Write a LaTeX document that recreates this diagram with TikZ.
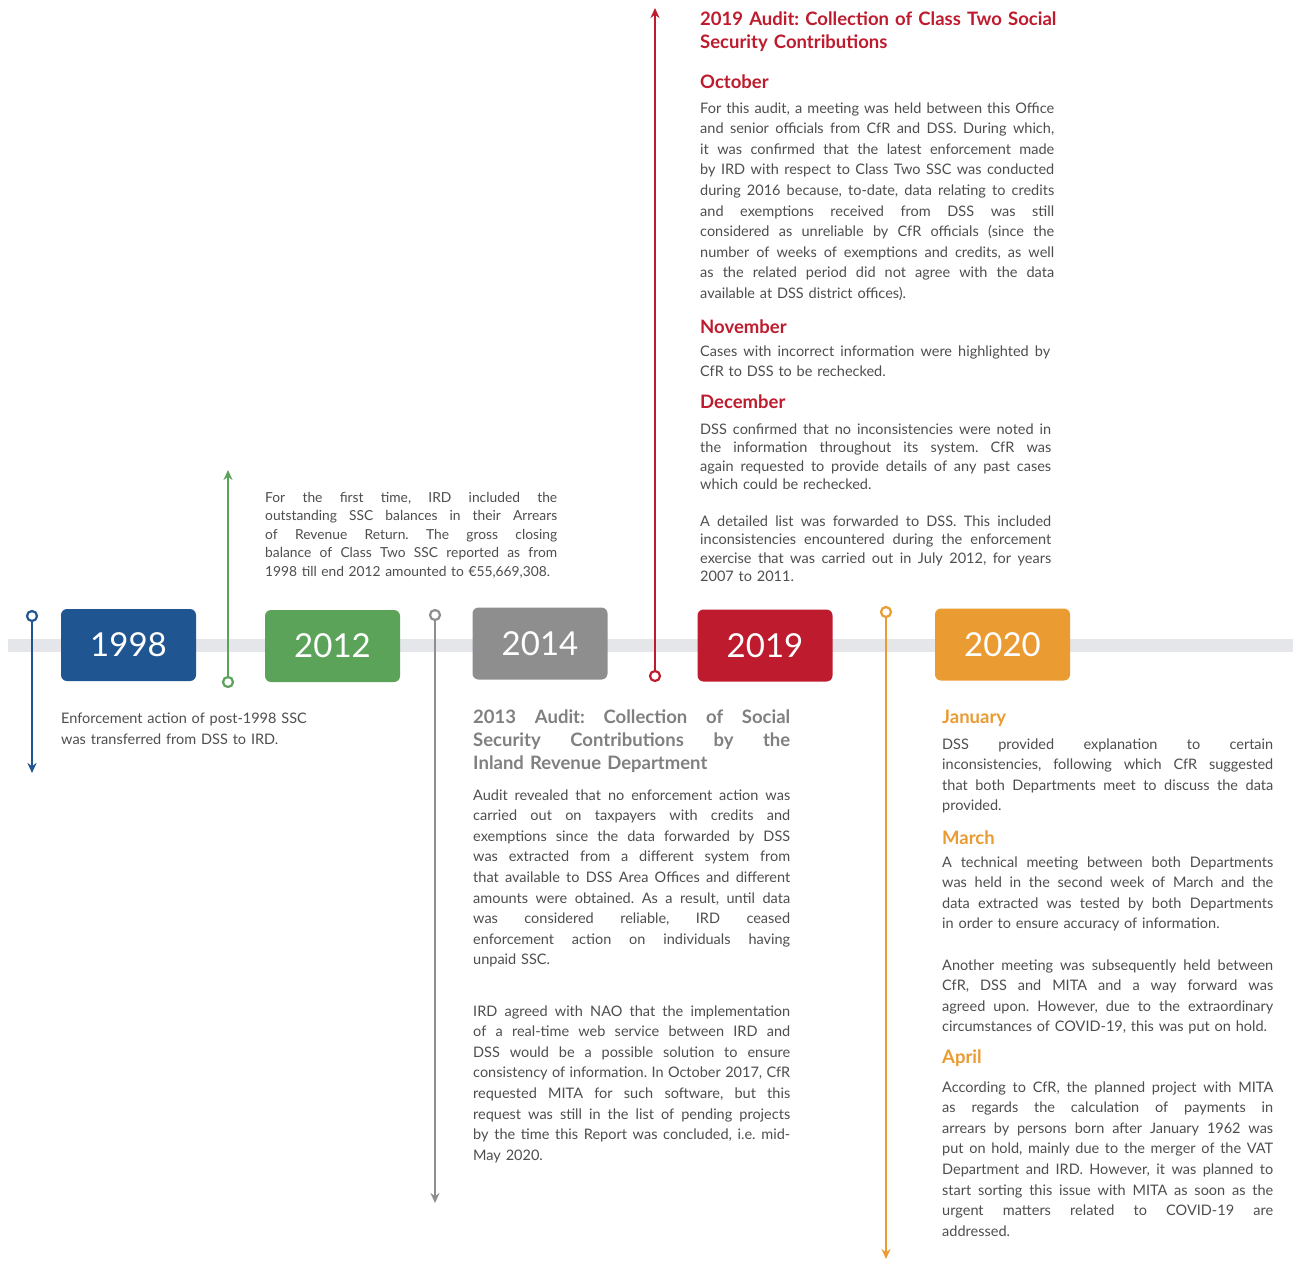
\documentclass[tikz,border=0pt]{standalone}
\usepackage{fontspec}
\setmainfont{Lato}
\usetikzlibrary{arrows.meta}
\definecolor{cblue}{RGB}{31,86,146}
\definecolor{cgreen}{RGB}{92,163,90}
\definecolor{cgray}{RGB}{142,142,142}
\definecolor{cred}{RGB}{190,28,46}
\definecolor{corange}{RGB}{234,155,50}
\definecolor{hgray}{RGB}{128,128,128}
\definecolor{bodygray}{RGB}{78,78,78}
\definecolor{band}{RGB}{228,230,233}
\def\jw{100pt}
\newcommand\jline[1]{{\frenchspacing\spaceskip=0.24em plus 3em\xspaceskip=0pt\makebox[\jw][s]{#1}}}
\tikzset{
  yearbox/.style={fill=#1, rounded corners=6pt, minimum width=135pt, minimum height=72pt,
    text=white, font=\fontsize{33}{33}\selectfont, inner sep=0},
  ring/.style={circle, draw=#1, fill=white, line width=2.2pt, minimum size=10pt, inner sep=0},
  tipconn/.style={draw=#1, line width=2.4pt, -{Stealth[length=10pt,width=9pt]}},
  para/.style={anchor=base west, inner sep=0, text width=#1, text=bodygray,
    font=\fontsize{14.5}{20.6}\selectfont, execute at begin node={\def\jw{#1}\parindent=0pt\frenchspacing}},
  paratight/.style={para=#1, font=\fontsize{14.5}{18.6}\selectfont},
  parasmall/.style={para=#1, font=\fontsize{13.8}{18.5}\selectfont},
  head/.style={anchor=base west, inner sep=0, text=#1, font=\fontsize{18.5}{23}\selectfont\bfseries},
  headblock/.style 2 args={anchor=base west, inner sep=0, text=#1, text width=#2,
    font=\fontsize{18.5}{23}\selectfont\bfseries, execute at begin node={\def\jw{#2}\parindent=0pt\frenchspacing}},
}
\begin{document}
\frenchspacing
\begin{tikzpicture}[x=1pt,y=-1pt]
\useasboundingbox[fill=white] (0,0) rectangle (1293,1264);
% timeline band
\draw[band, line width=13pt] (8,645) -- (1293,645);

% year boxes
\node[yearbox=cblue]   (y1998) at (128.5,645) {1998};
\node[yearbox=cgreen]  (y2012) at (332.5,646) {2012};
\node[yearbox=cgray]   (y2014) at (540,643.5) {2014};
\node[yearbox=cred]    (y2019) at (765,645.5) {2019};
\node[yearbox=corange] (y2020) at (1002.5,644.5) {2020};

% connectors
\node[ring=cblue] (r1998) at (32,616) {};
\coordinate (a1998) at (32,773);
\draw[tipconn=cblue] (r1998) -- (a1998);

\node[ring=cgreen] (r2012) at (228,682) {};
\coordinate (a2012) at (228,470);
\draw[tipconn=cgreen] (r2012) -- (a2012);

\node[ring=cgray] (r2014) at (435,615) {};
\coordinate (a2014) at (435,1203);
\draw[tipconn=cgray] (r2014) -- (a2014);

\node[ring=cred] (r2019) at (655,676) {};
\coordinate (a2019) at (655,8);
\draw[tipconn=cred] (r2019) -- (a2019);

\node[ring=corange] (r2020) at (886,612) {};
\coordinate (a2020) at (886,1259);
\draw[tipconn=corange] (r2020) -- (a2020);

% 1998 text
\node[para=260pt, font=\fontsize{14.5}{21}\selectfont] (t1998) at (61,723)
  {Enforcement action of post-1998 SSC\\was transferred from DSS to IRD.};

% 2012 text
\node[parasmall=292pt] (t2012) at (265,502)
  {\jline{For the first time, IRD included the}\\
   \jline{outstanding SSC balances in their Arrears}\\
   \jline{of Revenue Return. The gross closing}\\
   \jline{balance of Class Two SSC reported as from}\\
   1998 till end 2012 amounted to €55,669,308.};

% 2014 text
\node[headblock={hgray}{317pt}] (h2014) at (473,723)
  {\jline{2013 Audit: Collection of Social}\\
   \jline{Security Contributions by the}\\
   Inland Revenue Department};
\node[para=317pt] (t2014a) at (473,800)
  {\jline{Audit revealed that no enforcement action was}\\
   \jline{carried out on taxpayers with credits and}\\
   \jline{exemptions since the data forwarded by DSS}\\
   \jline{was extracted from a different system from}\\
   \jline{that available to DSS Area Offices and different}\\
   \jline{amounts were obtained. As a result, until data}\\
   \jline{was considered reliable, IRD ceased}\\
   \jline{enforcement action on individuals having}\\
   unpaid SSC.};
\node[para=317pt] (t2014b) at (473,1016)
  {\jline{IRD agreed with NAO that the implementation}\\
   \jline{of a real-time web service between IRD and}\\
   \jline{DSS would be a possible solution to ensure}\\
   \jline{consistency of information. In October 2017, CfR}\\
   \jline{requested MITA for such software, but this}\\
   \jline{request was still in the list of pending projects}\\
   \jline{by the time this Report was concluded, i.e. mid-}\\
   May 2020.};

% 2019 text
\node[headblock={cred}{380pt}] (h2019) at (700,25)
  {2019 Audit: Collection of Class Two Social\\Security Contributions};
\node[head=cred] (oct) at (700,88) {October};
\node[para=354pt] (toct) at (700,113)
  {\jline{For this audit, a meeting was held between this Office}\\
   \jline{and senior officials from CfR and DSS. During which,}\\
   \jline{it was confirmed that the latest enforcement made}\\
   \jline{by IRD with respect to Class Two SSC was conducted}\\
   \jline{during 2016 because, to-date, data relating to credits}\\
   \jline{and exemptions received from DSS was still}\\
   \jline{considered as unreliable by CfR officials (since the}\\
   \jline{number of weeks of exemptions and credits, as well}\\
   \jline{as the related period did not agree with the data}\\
   available at DSS district offices).};
\node[head=cred] (nov) at (700,333) {November};
\node[para=350pt] (tnov) at (700,356)
  {\jline{Cases with incorrect information were highlighted by}\\
   CfR to DSS to be rechecked.};
\node[head=cred] (dec) at (700,408) {December};
\node[paratight=351pt] (tdec) at (700,434)
  {\jline{DSS confirmed that no inconsistencies were noted in}\\
   \jline{the information throughout its system. CfR was}\\
   \jline{again requested to provide details of any past cases}\\
   which could be rechecked.};
\node[paratight=351pt] (tdec2) at (700,526)
  {\jline{A detailed list was forwarded to DSS. This included}\\
   \jline{inconsistencies encountered during the enforcement}\\
   \jline{exercise that was carried out in July 2012, for years}\\
   2007 to 2011.};

% 2020 text
\node[head=corange] (jan) at (942,723) {January};
\node[para=331pt] (tjan) at (942,749)
  {\jline{DSS provided explanation to certain}\\
   \jline{inconsistencies, following which CfR suggested}\\
   \jline{that both Departments meet to discuss the data}\\
   provided.};
\node[head=corange] (mar) at (942,844) {March};
\node[para=331pt] (tmar) at (942,867)
  {\jline{A technical meeting between both Departments}\\
   \jline{was held in the second week of March and the}\\
   \jline{data extracted was tested by both Departments}\\
   in order to ensure accuracy of information.};
\node[para=331pt] (tmar2) at (942,970)
  {\jline{Another meeting was subsequently held between}\\
   \jline{CfR, DSS and MITA and a way forward was}\\
   \jline{agreed upon. However, due to the extraordinary}\\
   circumstances of COVID-19, this was put on hold.};
\node[head=corange] (apr) at (942,1063) {April};
\node[para=331pt] (tapr) at (942,1092)
  {\jline{According to CfR, the planned project with MITA}\\
   \jline{as regards the calculation of payments in}\\
   \jline{arrears by persons born after January 1962 was}\\
   \jline{put on hold, mainly due to the merger of the VAT}\\
   \jline{Department and IRD. However, it was planned to}\\
   \jline{start sorting this issue with MITA as soon as the}\\
   \jline{urgent matters related to COVID-19 are}\\
   addressed.};
\end{tikzpicture}
\end{document}
